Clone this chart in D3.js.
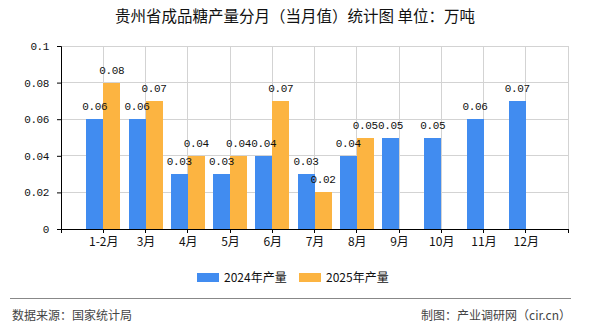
<!DOCTYPE html>
<html><head><meta charset="utf-8">
<script src="https://cdn.jsdelivr.net/npm/d3@7/dist/d3.min.js"></script>
<style>body{margin:0;background:#fff}</style>
</head><body>
<svg id="c" width="590" height="330"></svg>
<script>
const categories = ["1-2月","3月","4月","5月","6月","7月","8月","9月","10月","11月","12月"];
const series2024 = [0.06,0.06,0.03,0.03,0.04,0.03,0.04,0.05,0.05,0.06,0.07];
const series2025 = [0.08,0.07,0.04,0.04,0.07,0.02,0.05,null,null,null,null];
const yTicks = [0,0.02,0.04,0.06,0.08,0.1];
const seriesNames = ["2024年产量","2025年产量"];
const colors = ["#418CF0","#FCB441"];
const title = "贵州省成品糖产量分月（当月值）统计图 单位：万吨";

const svg = d3.select("#c");
const L = 61, R = 568, T = 46, B = 229;
const cjk = "'Noto Sans CJK SC','Noto Sans',sans-serif";
const mono = "'Liberation Mono','DejaVu Sans Mono',monospace";

const x = d3.scalePoint().domain(categories).range([L, R]).padding(1);
const y = d3.scaleLinear().domain([0, 0.1]).range([B, T]);
const bw = 17;

// title
svg.append("text").attr("x", 295).attr("y", 22).attr("text-anchor","middle")
  .attr("font-family", cjk).attr("font-size", 15.5).attr("font-weight", 400).attr("fill","#111").text(title);

// grid
const g = svg.append("g");
g.selectAll(".hg").data(yTicks).join("line")
  .attr("x1", L).attr("x2", R).attr("y1", d => y(d)).attr("y2", d => y(d))
  .attr("stroke", "#d3d3d3").attr("stroke-width", 1).attr("shape-rendering","crispEdges");
const vTicks = [L].concat(categories.map(c => x(c))).concat([R]);
g.selectAll(".vg").data(vTicks).join("line")
  .attr("x1", d => d).attr("x2", d => d).attr("y1", T).attr("y2", B)
  .attr("stroke", "#d3d3d3").attr("stroke-width", 1).attr("shape-rendering","crispEdges");

// bars
const all = [series2024, series2025];
const data = all.map(s => categories.map((c, i) => ({c, v: s[i]})).filter(d => d.v != null));
data.forEach((bars, si) => {
  svg.append("g").selectAll("rect").data(bars).join("rect")
    .attr("x", d => x(d.c) + (si === 0 ? -bw : 0))
    .attr("y", d => y(d.v)).attr("width", bw).attr("height", d => B - y(d.v))
    .attr("fill", colors[si]).attr("shape-rendering","crispEdges");
});
data.forEach((bars, si) => {
  svg.append("g").selectAll("text").data(bars).join("text")
    .attr("x", d => x(d.c) + (si === 0 ? -bw/2 : bw/2))
    .attr("y", d => y(d.v) - 9)
    .attr("text-anchor","middle").attr("font-family", mono).attr("font-size", 11)
    .attr("letter-spacing", "-0.4").attr("fill","#111").text(d => d.v);
});

// axes
const yAxis = d3.axisLeft(y).tickValues(yTicks).tickSize(4).tickFormat(d => d);
const ya = svg.append("g").attr("transform", `translate(${L},0)`).call(yAxis);
ya.selectAll("text").attr("font-family", mono).attr("font-size", 11).attr("letter-spacing","-0.4").attr("fill","#111").attr("dx","-5");
ya.select(".domain").attr("stroke","#000");
ya.selectAll(".tick line").attr("stroke","#000");

const xa = svg.append("g").attr("transform", `translate(0,${B})`);
xa.append("line").attr("x1", L).attr("x2", R).attr("y1", 0.5).attr("y2", 0.5).attr("stroke","#000");
xa.selectAll(".tk").data(vTicks).join("line")
  .attr("x1", d => d).attr("x2", d => d).attr("y1", 0).attr("y2", 4).attr("stroke","#000").attr("shape-rendering","crispEdges");
const xAxis = d3.axisBottom(x).tickSize(0).tickPadding(8);
const xg = svg.append("g").attr("transform", `translate(0,${B})`).call(xAxis);
xg.select(".domain").remove();
xg.selectAll("text").attr("font-family", cjk).attr("font-size", 12).attr("fill","#111");

// legend
const leg = svg.append("g");
const legX = [197, 299];
seriesNames.forEach((n, i) => {
  leg.append("rect").attr("x", legX[i]).attr("y", 273).attr("width", 22).attr("height", 9).attr("fill", colors[i]);
  leg.append("text").attr("x", legX[i] + 27).attr("y", 282).attr("font-family", cjk).attr("font-size", 12).attr("fill","#111").text(n);
});

// footer
svg.append("line").attr("x1", 10).attr("x2", 571).attr("y1", 298.5).attr("y2", 298.5).attr("stroke","#888").attr("stroke-width",1);
svg.append("text").attr("x", 12).attr("y", 320).attr("font-family", cjk).attr("font-size", 12).attr("fill","#444").text("数据来源：国家统计局");
svg.append("text").attr("x", 571).attr("y", 320).attr("text-anchor","end").attr("font-family", cjk).attr("font-size", 12).attr("fill","#444").text("制图：产业调研网（cir.cn）");
</script>
</body></html>
